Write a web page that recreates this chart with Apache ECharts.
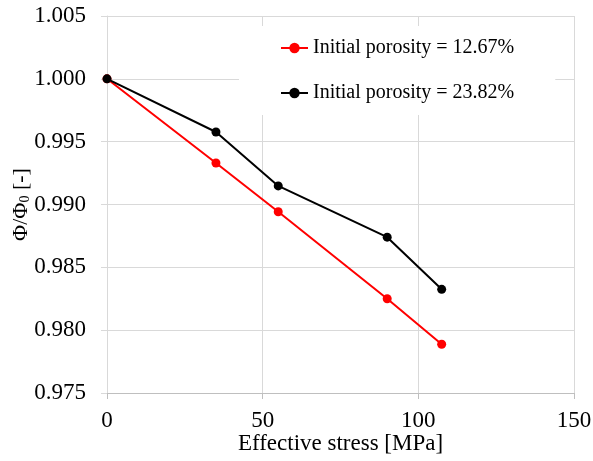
<!DOCTYPE html>
<html>
<head>
<meta charset="utf-8">
<script src="https://cdn.jsdelivr.net/npm/echarts@6/dist/echarts.min.js"></script>
<style>html,body{margin:0;padding:0;background:#fff}#c{width:593px;height:461px}</style>
</head>
<body>
<div id="c"></div>
<script>
const stress = [0, 35, 55, 90, 107.5];
const ratioLow = [1.0000, 0.99330, 0.98942, 0.98250, 0.97888];
const ratioHigh = [1.0000, 0.99577, 0.99148, 0.98740, 0.98325];
const seriesNames = ['Initial porosity = 12.67%', 'Initial porosity = 23.82%'];
const seriesColors = ['#ff0000', '#000000'];

const font = 'Liberation Serif';
const chart = echarts.init(document.getElementById('c'), null, {renderer: 'canvas'});
function pairs(xs, ys){ return xs.map((x,i)=>[x, ys[i]]); }
chart.setOption({
  animation: false,
  backgroundColor: '#fff',
  grid: {left: 107, right: 19, top: 16, bottom: 68, containLabel: false, outerBoundsMode: 'none'},
  legend: {
    orient: 'vertical', left: 239, top: 26,
    padding: [12, 41, 12, 41],
    backgroundColor: '#fff',
    itemWidth: 27, itemHeight: 13, itemGap: 25,
    textStyle: {fontFamily: font, fontSize: 20, color: '#000'},
    data: seriesNames
  },
  xAxis: {
    type: 'value', min: 0, max: 150, interval: 50,
    name: 'Effective stress [MPa]', nameLocation: 'middle', nameGap: 39, nameMoveOverlap: false,
    nameTextStyle: {fontFamily: font, fontSize: 23, color: '#000'},
    axisLine: {show: true, lineStyle: {color: '#bfbfbf', width: 1}},
    axisTick: {show: true, length: 6, lineStyle: {color: '#bfbfbf'}},
    axisLabel: {fontFamily: font, fontSize: 23, color: '#000', margin: 16},
    splitLine: {show: true, lineStyle: {color: '#d9d9d9', width: 1}}
  },
  yAxis: {
    type: 'value', min: 0.975, max: 1.005, interval: 0.005,
    name: '{a|Φ/Φ}{s|0}{a| [-]}', nameLocation: 'middle', nameGap: 75, nameRotate: 90, nameMoveOverlap: false,
    nameTextStyle: {rich: {
      a: {fontFamily: font, fontSize: 22, color: '#000'},
      s: {fontFamily: font, fontSize: 14, color: '#000', verticalAlign: 'bottom', padding: [8,0,0,0]}
    }},
    axisLine: {show: true, lineStyle: {color: '#d9d9d9', width: 1}},
    axisTick: {show: true, length: 6, lineStyle: {color: '#d9d9d9'}},
    axisLabel: {fontFamily: font, fontSize: 23, color: '#000', margin: 21,
      formatter: v => v.toFixed(3)},
    splitLine: {show: true, lineStyle: {color: '#d9d9d9', width: 1}}
  },
  series: [
    {name: seriesNames[0], type: 'line', data: pairs(stress, ratioLow), symbol: 'circle', symbolSize: 9,
     itemStyle: {color: seriesColors[0]}, lineStyle: {color: seriesColors[0], width: 2}},
    {name: seriesNames[1], type: 'line', data: pairs(stress, ratioHigh), symbol: 'circle', symbolSize: 9,
     itemStyle: {color: seriesColors[1]}, lineStyle: {color: seriesColors[1], width: 2}}
  ]
});
</script>
</body>
</html>
